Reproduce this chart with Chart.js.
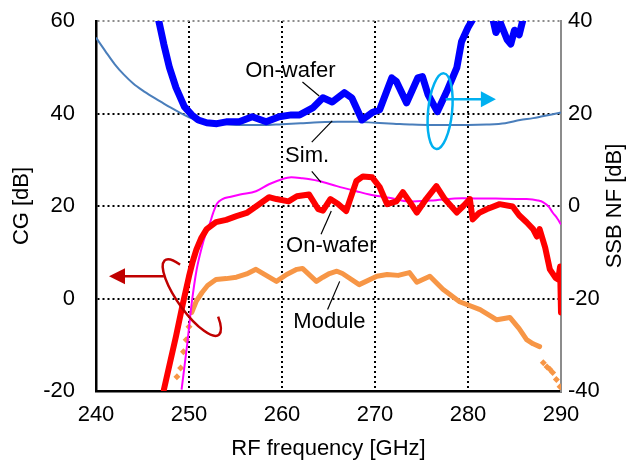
<!DOCTYPE html>
<html>
<head>
<meta charset="utf-8">
<script src="https://cdn.jsdelivr.net/npm/chart.js@4.4.1/dist/chart.umd.min.js"></script>
<style>
html,body{margin:0;padding:0;background:#fff;}
#wrap{width:627px;height:462px;}
</style>
</head>
<body>
<div id="wrap"><canvas id="c" width="627" height="462"></canvas></div>
<script>
// ---- axis ticks ----
const xTicks = [240, 250, 260, 270, 280, 290];
const cgTicks = [-20, 0, 20, 40, 60];
const nfTicks = [-40, -20, 0, 20, 40];

// ---- NF on-wafer (right axis) ----
const nfWaferFreq = [246.7,247.3,247.9,248.6,249.5,250.3,251.0,251.9,253.0,254.0,255.4,256.8,258.3,259.7,261.0,261.9,263.3,264.4,265.4,266.7,267.5,268.6,269.7,270.5,271.8,272.3,273.4,274.6,275.1,275.7,276.7,277.7,278.8,279.3,280.0,280.7,281.5,282.5,283.0,283.5,284.2,284.6,285.0,285.5,286.0,286.5];
const nfWaferVal  = [40.5,34.9,29.9,25.6,21.5,19.7,18.6,18.0,17.8,18.2,18.2,19.3,18.2,19.3,19.7,19.7,21.2,23.4,22.5,24.5,23.4,18.6,20.2,20.8,27.7,26.9,22.3,27.7,28.0,24.1,20.4,24.7,29.9,35.5,38.6,41,44,42,37.5,39.5,36,35,38,37,41,45];

// ---- NF simulation (right axis) ----
const nfSimFreq = [240,241,242,243,244,245,246,247,248,249,250,251,252,254,256,258,260,262,264,266,268,270,272,274,276,278,280,282,284,285.6,287,288,289,290];
const nfSimVal  = [36.4,33.5,30.7,28.4,26.5,25.0,23.7,22.5,21.3,20.2,19.2,18.6,18.2,17.7,17.5,17.5,17.7,17.9,18.1,18.2,18.2,18.0,17.8,17.6,17.5,17.5,17.5,17.6,17.9,18.6,19.0,19.4,19.8,20.2];

// ---- CG on-wafer (left axis) ----
const cgWaferFreq = [247.3,248.0,248.6,249.3,250.0,250.4,250.8,251.3,251.9,252.9,254.0,255.1,256.2,257.2,258.6,259.4,260.7,261.6,262.9,263.9,264.4,265.2,266.0,266.9,268.0,268.7,269.7,270.5,271.3,272.3,273.0,273.7,274.5,275.5,276.6,277.5,278.8,279.5,280.2,280.5,281.2,282.0,283.4,284.8,285.5,286.3,287.0,287.4,287.7,288.3,288.8,289.4,289.7,289.9,290.0];
const cgWaferVal  = [-19.7,-13.5,-8.2,-1.5,4.8,8.0,10.6,13.0,15.0,16.5,17.0,17.8,18.5,19.9,21.9,21.5,21.0,22.1,22.5,19.3,19.0,21.5,20.5,18.9,25.4,26.4,26.2,24.1,20.4,21.0,23.0,21.0,18.6,21.5,24.3,21.5,18.6,20.0,21.5,17.1,18.5,19.3,20.4,19.9,18.0,16.5,15.0,13.4,15.0,11.0,6.3,4.5,4.1,6.9,-3.0];

// ---- CG simulation (left axis) ----
const cgSimFreq = [249.2,249.8,250.3,250.8,251.3,251.8,252.2,252.6,253.0,253.6,254.5,255.5,257.2,258.6,260.0,261.0,262.2,263.0,264.0,265.9,268.0,269.4,271.5,273.7,276.0,279.4,283.0,286.3,287.5,288.1,288.7,289.1,289.6,290.0];
const cgSimVal  = [-19.7,-10,-0.9,6.0,10.5,14.0,16.0,18.5,20.5,21.5,22.0,22.5,23.2,24.7,25.8,26.2,26.0,25.8,25.4,24.3,23.2,22.5,21.8,21.0,21.2,21.7,21.6,21.5,21.2,20.8,19.8,18.6,17.3,16.0];

// ---- CG module (left axis) ----
const cgModFreq = [250.3,250.8,251.4,252.0,252.9,254.0,255.1,256.2,257.2,258.3,259.4,260.5,261.6,262.2,263.7,264.4,265.1,265.9,266.5,268.3,270.2,271.3,272.5,273.7,274.5,275.9,277.3,279.1,281.3,283.1,284.5,285.5,286.3,287.0,287.7];
const cgModVal  = [-3.0,-0.5,1.3,2.8,4.1,4.3,4.6,5.3,6.3,5.0,3.7,5.2,6.3,6.5,3.7,4.6,5.4,5.9,5.4,3.0,4.8,5.2,5.0,5.6,3.5,4.8,2.0,-0.7,-2.4,-4.6,-4.1,-6.5,-8.9,-9.8,-10.4];
const cgModSparseFreq = [248.7,249.1,249.4,249.7,250.0,288.1,288.5,288.8,289.1,289.5,289.9];
const cgModSparseVal  = [-16.9,-15.0,-11.5,-8.9,-6.1,-13.9,-14.8,-15.3,-16.0,-17.5,-19.1];

const pts = (fx, vy) => fx.map((f, i) => ({x: f, y: vy[i]}));

const FONT = 'Liberation Sans, Arial, sans-serif';
const FS = 22;

const annot = {
  id: 'annot',
  afterDatasetsDraw(chart) {
    const {ctx, scales} = chart;
    const X = v => scales.x.getPixelForValue(v);
    const Y = v => scales.y.getPixelForValue(v);
    ctx.save();
    // leader lines
    ctx.strokeStyle = '#000';
    ctx.lineWidth = 1.2;
    const leaders = [
      [262.2, 46.8, 264.0, 43.8],
      [263.2, 33.8, 265.4, 38.4],
      [263.2, 27.5, 264.2, 25.1],
      [264.2, 13.9, 265.3, 18.9],
      [264.9, -2.4, 266.2, 3.7]
    ];
    leaders.forEach(l => {
      ctx.beginPath(); ctx.moveTo(X(l[0]), Y(l[1])); ctx.lineTo(X(l[2]), Y(l[3])); ctx.stroke();
    });
    // labels
    ctx.fillStyle = '#000';
    ctx.font = FS + 'px ' + FONT;
    ctx.textAlign = 'center';
    ctx.textBaseline = 'middle';
    const labels = [
      ['On-wafer', 260.9, 49.2],
      ['Sim.', 262.7, 30.8],
      ['On-wafer', 265.3, 11.3],
      ['Module', 265.1, -5.0]
    ];
    labels.forEach(t => ctx.fillText(t[0], X(t[1]), Y(t[2])));

    // cyan ellipse + arrow (NF -> right axis)
    ctx.strokeStyle = '#00b0f0';
    ctx.fillStyle = '#00b0f0';
    ctx.lineWidth = 2.5;
    const cx = X(277.0), cy = Y(40.5);
    ctx.beginPath();
    ctx.ellipse(cx, cy, 12, 38, 0.1, 0, Math.PI * 2);
    ctx.stroke();
    const ay = Y(43.1);
    const ax0 = X(277.6), ax1 = X(283.0);
    ctx.beginPath(); ctx.moveTo(ax0, ay); ctx.lineTo(ax1 - 12, ay); ctx.stroke();
    ctx.beginPath(); ctx.moveTo(ax1, ay); ctx.lineTo(ax1 - 15, ay - 8); ctx.lineTo(ax1 - 15, ay + 8); ctx.closePath(); ctx.fill();

    // dark red ellipse + arrow (CG -> left axis)
    ctx.strokeStyle = '#c00000';
    ctx.fillStyle = '#c00000';
    const rx = X(250.3), ry = Y(0.2);
    ctx.beginPath();
    ctx.ellipse(rx, ry, 46, 14, 0.95, -48 * Math.PI / 180, 223 * Math.PI / 180);
    ctx.stroke();
    const by = Y(4.8);
    const bx0 = X(247.3), bx1 = X(241.4);
    ctx.beginPath(); ctx.moveTo(bx0, by); ctx.lineTo(bx1 + 12, by); ctx.stroke();
    ctx.beginPath(); ctx.moveTo(bx1, by); ctx.lineTo(bx1 + 16, by - 8); ctx.lineTo(bx1 + 16, by + 8); ctx.closePath(); ctx.fill();

    // right axis title (reads bottom-to-top)
    ctx.fillStyle = '#000';
    ctx.font = FS + 'px ' + FONT;
    ctx.translate(615, (chart.chartArea.top + chart.chartArea.bottom) / 2);
    ctx.rotate(-Math.PI / 2);
    ctx.textAlign = 'center';
    ctx.textBaseline = 'middle';
    ctx.fillText('SSB NF [dB]', 0, 0);
    ctx.restore();
  }
};

new Chart(document.getElementById('c'), {
  type: 'line',
  data: {
    datasets: [
      { label: 'CG on-wafer', data: pts(cgWaferFreq, cgWaferVal), yAxisID: 'y', borderColor: '#ff0000', borderWidth: 6, pointRadius: 0, borderJoinStyle: 'round', borderCapStyle: 'round' },
      { label: 'CG sim', data: pts(cgSimFreq, cgSimVal), yAxisID: 'y', borderColor: '#ff00ff', borderWidth: 2, pointRadius: 0, cubicInterpolationMode: 'monotone' },
      { label: 'CG module', data: pts(cgModFreq, cgModVal), yAxisID: 'y', borderColor: '#f79646', borderWidth: 5, pointRadius: 0, borderJoinStyle: 'round', borderCapStyle: 'round' },
      { label: 'CG module sparse', data: pts(cgModSparseFreq, cgModSparseVal), yAxisID: 'y', showLine: false, pointStyle: 'rectRot', pointRadius: 3.5, backgroundColor: '#f79646', borderColor: '#f79646', borderWidth: 0 },
      { label: 'NF on-wafer', data: pts(nfWaferFreq, nfWaferVal), yAxisID: 'y2', borderColor: '#0000ff', borderWidth: 7, pointRadius: 0, borderJoinStyle: 'round', borderCapStyle: 'round' },
      { label: 'NF sim', data: pts(nfSimFreq, nfSimVal), yAxisID: 'y2', borderColor: '#4a7ebb', borderWidth: 2, pointRadius: 0, cubicInterpolationMode: 'monotone' }
    ]
  },
  options: {
    responsive: false,
    animation: false,
    events: [],
    layout: { padding: { top: 21, left: 0, right: 0, bottom: 0 } },
    plugins: { legend: { display: false }, tooltip: { enabled: false } },
    scales: {
      x: {
        type: 'linear', min: 240, max: 290,
        afterFit: s => { s.height = 71; s.paddingLeft = 0; s.paddingRight = 0; },
        afterBuildTicks: s => { s.ticks = xTicks.map(v => ({value: v})); },
        ticks: { color: '#000', padding: 11, font: { family: FONT, size: FS } },
        grid: { drawTicks: false, lineWidth: 2, color: c => (c.tick && c.tick.value === 290) ? '#8c8c8c' : (c.tick && c.tick.value === 240 ? 'rgba(0,0,0,0)' : '#000') },
        border: { display: true, color: '#000', width: 2.5, dash: [2, 3] },
        title: { display: true, text: 'RF frequency [GHz]', color: '#000', font: { family: FONT, size: FS, lineHeight: 1 }, padding: { top: 0, bottom: 2 } }
      },
      y: {
        position: 'left', min: -20, max: 60,
        afterFit: s => { s.width = 96; s.paddingTop = 0; s.paddingBottom = 0; },
        afterBuildTicks: s => { s.ticks = cgTicks.map(v => ({value: v})); },
        ticks: { color: '#000', padding: 21, font: { family: FONT, size: FS } },
        grid: { drawTicks: false, lineWidth: 2, color: c => (c.tick && c.tick.value === 60) ? '#8c8c8c' : (c.tick && c.tick.value === -20 ? 'rgba(0,0,0,0)' : '#000') },
        border: { display: true, color: '#000', width: 2.5, dash: [2, 3] },
        title: { display: true, text: 'CG [dB]', color: '#000', font: { family: FONT, size: FS, lineHeight: 1 }, padding: { top: 11, bottom: 0 } }
      },
      y2: {
        position: 'right', min: -40, max: 40,
        afterFit: s => { s.width = 66; s.paddingTop = 0; s.paddingBottom = 0; },
        afterBuildTicks: s => { s.ticks = nfTicks.map(v => ({value: v})); },
        ticks: { color: '#000', padding: 7, font: { family: FONT, size: FS } },
        grid: { display: false, drawTicks: false },
        border: { display: true, color: '#8c8c8c', width: 2, dash: [2, 3] }
      }
    }
  },
  plugins: [annot]
});
</script>
</body>
</html>
